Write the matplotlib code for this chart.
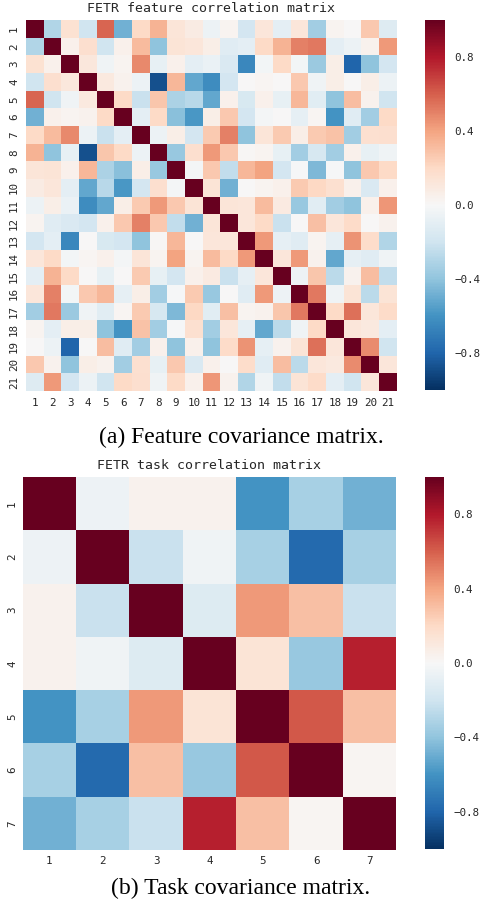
import numpy as np
import matplotlib
matplotlib.use("Agg")
import matplotlib.pyplot as plt

# upper triangle of the feature correlation matrix (row i -> cols i+1..21)
feature_upper = [
    [-0.30, 0.15, -0.20, 0.58, -0.48, 0.20, 0.35, 0.13, 0.08, -0.06, 0.03, -0.18, 0.12, -0.10, 0.12, -0.35, 0.03, 0.00, 0.27, -0.13],
    [0.05, 0.17, -0.20, 0.05, 0.32, -0.40, 0.14, 0.12, 0.07, -0.12, -0.10, 0.20, 0.35, 0.50, 0.53, -0.10, -0.06, 0.04, 0.43],
    [0.11, -0.04, 0.03, 0.48, -0.08, 0.05, -0.10, -0.07, -0.15, -0.65, -0.03, 0.20, -0.03, -0.37, 0.07, -0.80, -0.40, -0.18],
    [0.10, 0.04, -0.06, -0.88, 0.33, -0.52, -0.63, -0.18, 0.00, 0.02, 0.00, 0.27, -0.04, 0.07, 0.00, 0.07, -0.06],
    [0.20, -0.22, 0.28, -0.32, -0.28, -0.52, 0.05, -0.16, 0.05, -0.08, 0.33, -0.11, -0.40, 0.31, 0.04, -0.20],
    [-0.10, 0.20, -0.42, -0.58, 0.07, 0.27, -0.18, -0.02, 0.00, -0.09, 0.02, -0.60, -0.12, -0.35, 0.20],
    [-0.06, 0.07, -0.18, 0.26, 0.50, -0.40, 0.13, 0.26, 0.07, 0.26, 0.29, -0.35, 0.16, 0.17],
    [-0.38, 0.17, 0.43, 0.27, 0.01, 0.03, -0.08, -0.35, -0.17, -0.35, 0.05, -0.08, -0.04],
    [-0.02, 0.27, -0.25, 0.33, 0.40, -0.18, -0.01, -0.45, -0.01, -0.40, 0.27, 0.20],
    [0.14, -0.48, 0.00, 0.03, 0.05, 0.26, 0.21, 0.16, 0.05, -0.15, 0.05],
    [0.13, 0.12, 0.32, 0.09, -0.38, -0.11, -0.35, -0.40, 0.05, 0.44],
    [0.12, 0.20, -0.22, 0.00, 0.30, 0.12, 0.19, 0.00, 0.04],
    [0.43, -0.09, -0.12, 0.03, -0.09, 0.45, 0.18, -0.30],
    [0.12, 0.43, 0.04, -0.52, -0.09, -0.12, -0.04],
    [-0.05, 0.28, -0.27, 0.04, 0.31, -0.25],
    [0.53, -0.04, 0.14, -0.27, 0.14],
    [0.20, 0.55, 0.12, 0.19],
    [0.12, 0.10, -0.10],
    [0.47, -0.20],
    [0.12],
]

# upper triangle of the task correlation matrix
task_upper = [
    [-0.05, 0.04, 0.04, -0.60, -0.33, -0.48],
    [-0.22, -0.04, -0.33, -0.78, -0.33],
    [-0.14, 0.43, 0.30, -0.22],
    [0.14, -0.38, 0.78],
    [0.62, 0.30],
    [0.02],
]

feature_labels = [str(i) for i in range(1, 22)]
task_labels = [str(i) for i in range(1, 8)]
cbar_ticks = [-0.8, -0.4, 0.0, 0.4, 0.8]


def sym_matrix(upper):
    n = len(upper) + 1
    m = np.eye(n)
    for i, row in enumerate(upper):
        for k, v in enumerate(row):
            m[i, i + 1 + k] = v
            m[i + 1 + k, i] = v
    return m


W, H = 482, 910
mono = "DejaVu Sans Mono"
txt_col = "#262626"


def box(x0, y0, x1, y1):
    # pixel box (top-left origin) -> figure fraction
    return [x0 / W, 1 - y1 / H, (x1 - x0) / W, (y1 - y0) / H]


def draw(fig, mat, labels, ax_box, cb_box, title, title_y, xpad):
    ax = fig.add_axes(box(*ax_box))
    cax = fig.add_axes(box(*cb_box))
    n = mat.shape[0]
    mesh = ax.pcolormesh(np.arange(n + 1), np.arange(n + 1), mat,
                         cmap="RdBu_r", vmin=-1, vmax=1)
    ax.set_xlim(0, n)
    ax.set_ylim(n, 0)
    ax.set_xticks(np.arange(n) + 0.5)
    ax.set_yticks(np.arange(n) + 0.5)
    ax.set_xticklabels(labels, family=mono, fontsize=7.8, color=txt_col)
    ax.set_yticklabels(labels, family=mono, fontsize=7.8, color=txt_col,
                       rotation=90, va="center")
    ax.tick_params(length=0, pad=xpad)
    for s in ax.spines.values():
        s.set_visible(False)

    cb = fig.colorbar(mesh, cax=cax)
    cb.outline.set_visible(False)
    cb.set_ticks(cbar_ticks)
    cb.set_ticklabels(["\u22120.8", "\u22120.4", "0.0", "0.4", "0.8"])
    cax.tick_params(length=0, pad=7)
    for t in cax.get_yticklabels():
        t.set_family(mono)
        t.set_fontsize(7.8)
        t.set_color(txt_col)

    cx = (ax_box[0] + ax_box[2]) / 2 / W
    fig.text(cx, 1 - title_y / H, title, family=mono, fontsize=9.5,
             color=txt_col, ha="center", va="center")


fig = plt.figure(figsize=(W / 100, H / 100), dpi=100)

draw(fig, sym_matrix(feature_upper), feature_labels,
     (26, 20, 396.7, 391), (425, 20, 445, 390),
     "FETR feature correlation matrix", 9, 5)
draw(fig, sym_matrix(task_upper), task_labels,
     (22.7, 477, 396, 850), (425, 477, 444, 849),
     "FETR task correlation matrix", 466, 4)

fig.text(0.5, 1 - 437.5 / H, "(a) Feature covariance matrix.",
         family="Liberation Serif", fontsize=17, ha="center", va="center")
fig.text(0.5, 1 - 888 / H, "(b) Task covariance matrix.",
         family="Liberation Serif", fontsize=17, ha="center", va="center")

fig.savefig("out.png", dpi=100)
